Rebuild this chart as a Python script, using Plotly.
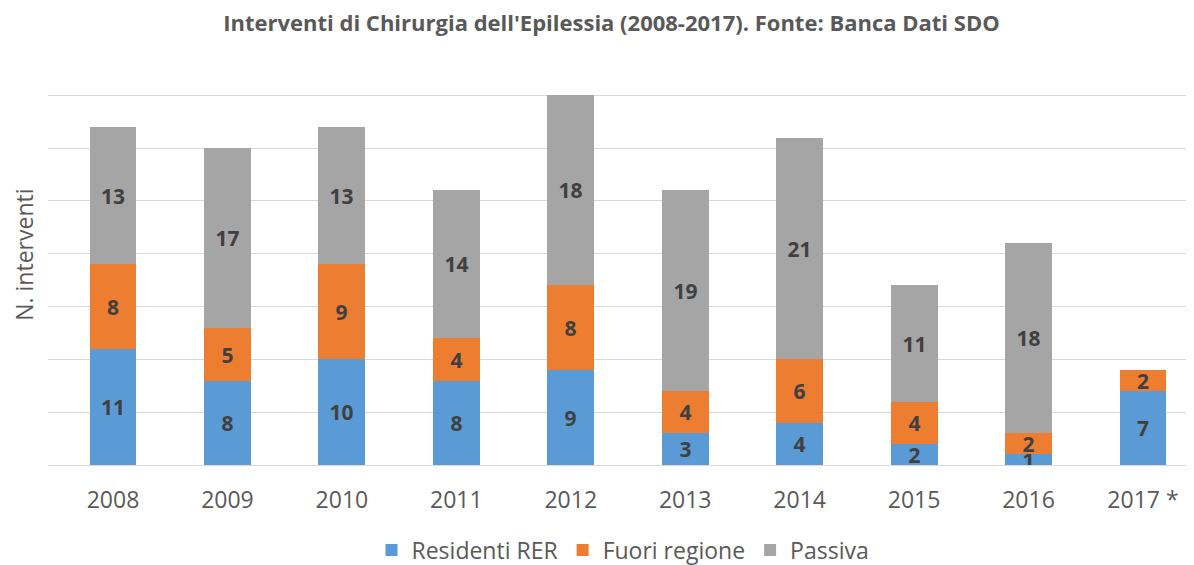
import plotly.graph_objects as go

years = ["2008", "2009", "2010", "2011", "2012", "2013", "2014", "2015", "2016", "2017 *"]
residenti = [11, 8, 10, 8, 9, 3, 4, 2, 1, 7]
fuori = [8, 5, 9, 4, 8, 4, 6, 4, 2, 2]
passiva = [13, 17, 13, 14, 18, 19, 21, 11, 18, None]

series = [
    ("Residenti RER", residenti, "#5B9BD5"),
    ("Fuori regione", fuori, "#ED7D31"),
    ("Passiva", passiva, "#A5A5A5"),
]

W, H = 1186, 557  # page body has an 8px margin

fig = go.Figure()
for name, vals, color in series:
    fig.add_trace(go.Bar(
        x=years, y=vals, name=name,
        marker=dict(color=color, line=dict(width=0)),
        width=0.41,
        text=[str(v) if v else "" for v in vals],
        textposition="inside",
        insidetextanchor="middle",
        constraintext="none",
        textangle=0,
        textfont=dict(family="Open Sans", size=21, color="#404040", weight="bold"),
    ))

fig.update_layout(
    barmode="stack",
    width=W, height=H,
    margin=dict(l=40, r=0, t=34, b=100, autoexpand=False),
    paper_bgcolor="white", plot_bgcolor="white",
    title=dict(
        text="<b>Interventi di Chirurgia dell'Epilessia (2008-2017). Fonte: Banca Dati SDO</b>",
        x=603.5 / W, xanchor="center", xref="container",
        y=1 - 15 / H, yanchor="middle", yref="container",
        font=dict(family="Open Sans", size=22, color="#595959"),
    ),
    font=dict(family="Open Sans", color="#595959"),
    showlegend=True,
    legend=dict(
        orientation="h", x=615 / W, xanchor="center", xref="container",
        y=(H - 542) / H, yanchor="middle", yref="container",
        font=dict(size=23, color="#595959"), itemclick=False,
        traceorder="normal",
    ),
    xaxis=dict(
        range=[-0.568, 9.446], automargin=False,
        showgrid=False, showline=False, zeroline=False,
        ticks="outside", ticklen=14, tickcolor="rgba(0,0,0,0)",
        tickfont=dict(size=23, color="#595959"),
    ),
    yaxis=dict(
        range=[0, 40.05], dtick=5, automargin=False,
        showticklabels=False,
        showgrid=True, gridcolor="#D9D9D9", gridwidth=1,
        zeroline=True, zerolinecolor="#D9D9D9", zerolinewidth=1,
    ),
    annotations=[dict(
        text="N. interventi", textangle=-90,
        xref="paper", yref="paper", x=(24 - 48) / 1146, y=0.497,
        xanchor="center", yanchor="middle", showarrow=False,
        font=dict(size=23, color="#595959"),
    )],
    bargap=0,
)

fig.write_html("out.html")
